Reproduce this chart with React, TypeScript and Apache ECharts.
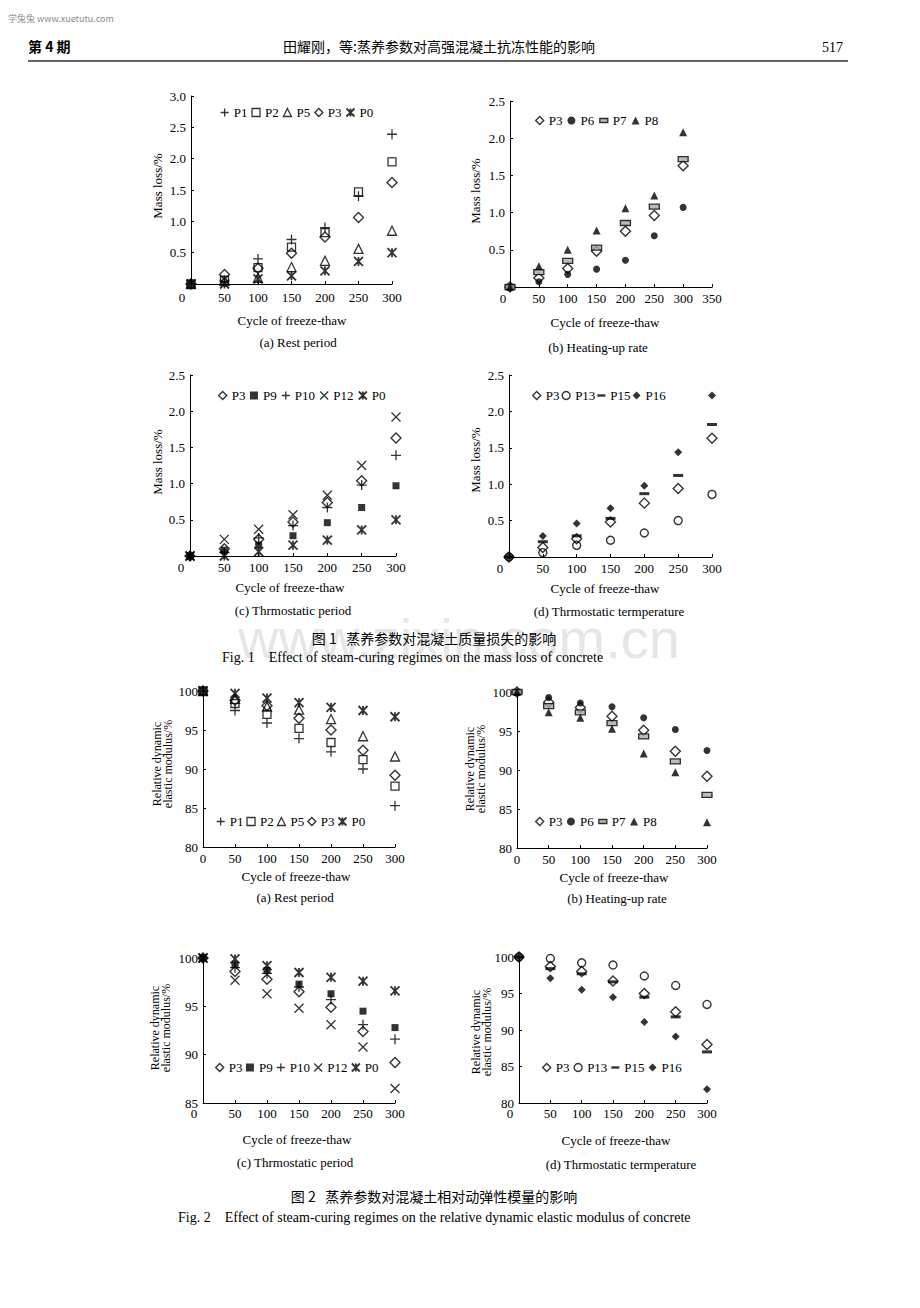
import React, { useEffect, useRef } from "react";
import * as echarts from "echarts";

// ---------- data ----------
const cycles = [0, 50, 100, 150, 200, 250, 300];

// Fig.1 (a) Rest period – mass loss %
const m1a_P1 = [0, 0.04, 0.4, 0.71, 0.9, 1.4, 2.39];
const m1a_P2 = [0, 0.06, 0.26, 0.59, 0.82, 1.47, 1.95];
const m1a_P5 = [0, 0.05, 0.1, 0.27, 0.37, 0.56, 0.85];
const m1a_P3 = [0, 0.15, 0.25, 0.49, 0.75, 1.06, 1.62];
const m1a_P0 = [0, 0.0, 0.08, 0.13, 0.21, 0.36, 0.5];
// Fig.1 (b) Heating-up rate
const m1b_P3 = [0, 0.12, 0.25, 0.48, 0.75, 0.96, 1.63];
const m1b_P6 = [0, 0.07, 0.17, 0.24, 0.36, 0.69, 1.07];
const m1b_P7 = [0, 0.2, 0.35, 0.53, 0.86, 1.08, 1.72];
const m1b_P8 = [0, 0.28, 0.5, 0.76, 1.06, 1.23, 2.08];
// Fig.1 (c) Thermostatic period
const m1c_P3 = [0, 0.1, 0.23, 0.47, 0.74, 1.04, 1.63];
const m1c_P9 = [0, 0.08, 0.15, 0.28, 0.46, 0.67, 0.97];
const m1c_P10 = [0, 0.05, 0.25, 0.42, 0.67, 0.98, 1.39];
const m1c_P12 = [0, 0.23, 0.37, 0.57, 0.84, 1.25, 1.92];
const m1c_P0 = [0, 0.0, 0.06, 0.15, 0.22, 0.36, 0.5];
// Fig.1 (d) Thermostatic temperature
const m1d_P3 = [0, 0.13, 0.25, 0.48, 0.74, 0.94, 1.63];
const m1d_P13 = [0, 0.06, 0.16, 0.23, 0.33, 0.5, 0.86];
const m1d_P15 = [0, 0.21, 0.29, 0.53, 0.87, 1.12, 1.82];
const m1d_P16 = [0, 0.29, 0.46, 0.67, 0.98, 1.44, 2.22];

// Fig.2 (a) Rest period – relative dynamic elastic modulus %
const e2a_P1 = [100, 97.5, 95.9, 93.9, 92.2, 90.0, 85.3];
const e2a_P2 = [100, 98.4, 97.0, 95.2, 93.4, 91.2, 87.8];
const e2a_P5 = [100, 99.0, 98.0, 97.6, 96.4, 94.2, 91.6];
const e2a_P3 = [100, 98.8, 98.1, 96.5, 95.0, 92.4, 89.2];
const e2a_P0 = [100, 99.7, 99.1, 98.5, 97.9, 97.5, 96.7];
// Fig.2 (b) Heating-up rate
const e2b_P3 = [100, 98.7, 98.0, 96.9, 95.1, 92.4, 89.2];
const e2b_P6 = [100, 99.3, 98.6, 98.1, 96.7, 95.2, 92.5];
const e2b_P7 = [100, 98.2, 97.4, 96.0, 94.3, 91.1, 86.8];
const e2b_P8 = [100, 97.4, 96.7, 95.3, 92.1, 89.7, 83.3];
// Fig.2 (c) Thermostatic period
const e2c_P3 = [100, 98.6, 97.8, 96.5, 94.9, 92.4, 89.2];
const e2c_P9 = [100, 99.3, 98.7, 97.3, 96.3, 94.5, 92.8];
const e2c_P10 = [100, 99.0, 98.4, 97.0, 95.7, 93.1, 91.6];
const e2c_P12 = [100, 97.7, 96.3, 94.8, 93.1, 90.8, 86.5];
const e2c_P0 = [100, 99.9, 99.2, 98.5, 98.0, 97.6, 96.6];
// Fig.2 (d) Thermostatic temperature
const e2d_P3 = [100, 98.7, 98.0, 96.7, 95.0, 92.5, 88.0];
const e2d_P13 = [100, 99.8, 99.2, 98.9, 97.4, 96.1, 93.5];
const e2d_P15 = [100, 98.4, 97.7, 96.6, 94.5, 91.8, 87.0];
const e2d_P16 = [100, 97.1, 95.5, 94.5, 91.1, 89.1, 81.9];

// ---------- styles ----------
const SERIF = '"Liberation Serif", "Times New Roman", serif';
const CJK = '"Noto Sans CJK SC", sans-serif';

const hollow = (w = 1.3) => ({ color: "rgba(0,0,0,0)", borderColor: "#000", borderWidth: w });
const filled = () => ({ color: "#000", borderColor: "#000", borderWidth: 0 });

const MARKERS: Record<string, any> = {
  plus: { symbol: "path://M5 0L5 10M0 5L10 5", symbolSize: 10, itemStyle: hollow(1.3) },
  square: { symbol: "rect", symbolSize: 8, itemStyle: hollow(1.3) },
  triangle: { symbol: "triangle", symbolSize: 9, itemStyle: hollow(1.3) },
  diamond: { symbol: "diamond", symbolSize: 10, itemStyle: hollow(1.4) },
  asterisk: { symbol: "path://M0 0L10 10M10 0L0 10M5 0L5 10", symbolSize: 9, itemStyle: hollow(1.8) },
  dot: { symbol: "circle", symbolSize: 7, itemStyle: filled() },
  ftriangle: { symbol: "triangle", symbolSize: 8, itemStyle: filled() },
  bar: { symbol: "path://M0 0M10 10M0 2.5L10 2.5L10 7.5L0 7.5Z", symbolSize: 10, itemStyle: { color: "#aaa", borderColor: "#000", borderWidth: 1.3 } },
  fsquare: { symbol: "rect", symbolSize: 7, itemStyle: filled() },
  cross: { symbol: "path://M0 0L10 10M10 0L0 10", symbolSize: 9, itemStyle: hollow(1.3) },
  circle: { symbol: "circle", symbolSize: 8, itemStyle: hollow(1.4) },
  dash: { symbol: "path://M0 0M10 10M0 3.5L10 3.5L10 6.5L0 6.5Z", symbolSize: 10, itemStyle: filled() },
  fdiamond: { symbol: "diamond", symbolSize: 8, itemStyle: filled() },
};

const mk = (name: string, kind: string, gi: number, values: number[]) => ({
  type: "scatter",
  name,
  xAxisIndex: gi,
  yAxisIndex: gi,
  data: cycles.map((c, i) => [c, values[i]]),
  symbol: MARKERS[kind].symbol,
  symbolSize: MARKERS[kind].symbolSize,
  itemStyle: { ...MARKERS[kind].itemStyle },
  emphasis: { disabled: true },
  silent: true,
  z: 3,
});

// grid layouts (pixel)
const GRIDS = [
  { left: 191, top: 96, width: 201, height: 188 },
  { left: 510, top: 101, width: 202, height: 186 },
  { left: 190, top: 375, width: 206, height: 181 },
  { left: 509, top: 375, width: 203, height: 182 },
  { left: 203, top: 691, width: 192, height: 156 },
  { left: 517, top: 692, width: 190, height: 156 },
  { left: 203, top: 958, width: 192, height: 145 },
  { left: 519, top: 957, width: 188, height: 146 },
];

const X_CFG = [
  { max: 300, shift: 9, margin: 7 },
  { max: 350, shift: 7, margin: 5 },
  { max: 300, shift: 9, margin: 5 },
  { max: 300, shift: 9, margin: 5 },
  { max: 300, shift: 0, margin: 4.5 },
  { max: 300, shift: 0, margin: 4.5 },
  { max: 300, shift: 9, margin: 4 },
  { max: 300, shift: 9, margin: 4 },
];
const Y_CFG = [
  { min: 0, max: 3, interval: 0.5, dec: 1, showMin: false },
  { min: 0, max: 2.5, interval: 0.5, dec: 1, showMin: false },
  { min: 0, max: 2.5, interval: 0.5, dec: 1, showMin: false },
  { min: 0, max: 2.5, interval: 0.5, dec: 1, showMin: false },
  { min: 80, max: 100, interval: 5, dec: 0, showMin: true },
  { min: 80, max: 100, interval: 5, dec: 0, showMin: true },
  { min: 85, max: 100, interval: 5, dec: 0, showMin: true },
  { min: 80, max: 100, interval: 5, dec: 0, showMin: true },
];

const LEGENDS = [
  { data: ["P1", "P2", "P5", "P3", "P0"], left: 220, top: 106, gap: 4 },
  { data: ["P3", "P6", "P7", "P8"], left: 535, top: 114, gap: 5 },
  { data: ["P3", "P9", "P10", "P12", "P0"], left: 218, top: 389, gap: 4.5 },
  { data: ["P3", "P13", "P15", "P16"], left: 532, top: 389, gap: 2 },
  { data: ["P1", "P2", "P5", "P3", "P0"], left: 216, top: 815, gap: 3 },
  { data: ["P3", "P6", "P7", "P8"], left: 535, top: 815, gap: 4.5 },
  { data: ["P3", "P9", "P10", "P12", "P0"], left: 215, top: 1061, gap: 3.5 },
  { data: ["P3", "P13", "P15", "P16"], left: 542, top: 1061, gap: 4 },
];

const txt = (text: string, x: number, y: number, size: number, o: any = {}) => ({
  type: "text",
  x,
  y,
  rotation: o.rot || 0,
  silent: true,
  z: o.z ?? 10,
  style: {
    text,
    fill: o.fill || "#000",
    fontSize: size,
    fontFamily: o.font || SERIF,
    fontWeight: o.weight || "normal",
    align: o.align || "center",
    verticalAlign: "middle",
    lineHeight: o.lh,
  },
});

export default function App() {
  const ref = useRef<HTMLDivElement>(null);

  useEffect(() => {
    if (!ref.current) return;
    const chart = echarts.init(ref.current, null, { renderer: "svg" });

    const series = [
      mk("P1", "plus", 0, m1a_P1),
      mk("P2", "square", 0, m1a_P2),
      mk("P5", "triangle", 0, m1a_P5),
      mk("P3", "diamond", 0, m1a_P3),
      mk("P0", "asterisk", 0, m1a_P0),

      mk("P3", "diamond", 1, m1b_P3),
      mk("P6", "dot", 1, m1b_P6),
      mk("P7", "bar", 1, m1b_P7),
      mk("P8", "ftriangle", 1, m1b_P8),

      mk("P3", "diamond", 2, m1c_P3),
      mk("P9", "fsquare", 2, m1c_P9),
      mk("P10", "plus", 2, m1c_P10),
      mk("P12", "cross", 2, m1c_P12),
      mk("P0", "asterisk", 2, m1c_P0),

      mk("P3", "diamond", 3, m1d_P3),
      mk("P13", "circle", 3, m1d_P13),
      mk("P15", "dash", 3, m1d_P15),
      mk("P16", "fdiamond", 3, m1d_P16),

      mk("P1", "plus", 4, e2a_P1),
      mk("P2", "square", 4, e2a_P2),
      mk("P5", "triangle", 4, e2a_P5),
      mk("P3", "diamond", 4, e2a_P3),
      mk("P0", "asterisk", 4, e2a_P0),

      mk("P3", "diamond", 5, e2b_P3),
      mk("P6", "dot", 5, e2b_P6),
      mk("P7", "bar", 5, e2b_P7),
      mk("P8", "ftriangle", 5, e2b_P8),

      mk("P3", "diamond", 6, e2c_P3),
      mk("P9", "fsquare", 6, e2c_P9),
      mk("P10", "plus", 6, e2c_P10),
      mk("P12", "cross", 6, e2c_P12),
      mk("P0", "asterisk", 6, e2c_P0),

      mk("P3", "diamond", 7, e2d_P3),
      mk("P13", "circle", 7, e2d_P13),
      mk("P15", "dash", 7, e2d_P15),
      mk("P16", "fdiamond", 7, e2d_P16),
    ];

    const axisLine = { show: true, onZero: false, lineStyle: { color: "#000", width: 1 } };
    const axisTick = { show: true, inside: true, length: 3, lineStyle: { color: "#000", width: 1 } };

    const xAxis = X_CFG.map((c, i) => ({
      type: "value",
      gridIndex: i,
      min: 0,
      max: c.max,
      interval: 50,
      axisLine,
      axisTick,
      splitLine: { show: false },
      axisLabel: {
        color: "#000",
        fontFamily: SERIF,
        fontSize: 13,
        margin: c.margin,
        showMinLabel: true,
        showMaxLabel: true,
        formatter: (v: number) => (v === 0 && c.shift ? "{z|0}" : String(v)),
        rich: { z: { padding: [0, c.shift * 2, 0, 0], fontFamily: SERIF, fontSize: 13, color: "#000" } },
      },
    }));

    const yAxis = Y_CFG.map((c, i) => ({
      type: "value",
      gridIndex: i,
      min: c.min,
      max: c.max,
      interval: c.interval,
      axisLine,
      axisTick,
      splitLine: { show: false },
      axisLabel: {
        color: "#000",
        fontFamily: SERIF,
        fontSize: 13,
        margin: 5,
        showMinLabel: c.showMin,
        showMaxLabel: true,
        formatter: (v: number) => v.toFixed(c.dec),
      },
    }));

    const legend = LEGENDS.map((l) => ({
      data: l.data,
      left: l.left,
      top: l.top,
      orient: "horizontal",
      itemWidth: 8,
      itemHeight: 8,
      itemGap: l.gap,
      padding: 0,
      selectedMode: false,
      textStyle: { fontFamily: SERIF, fontSize: 13, color: "#000" },
      itemStyle: { borderWidth: "inherit" },
    }));

    const ml = "Mass loss/%";
    const rd = "Relative dynamic\nelastic modulus/%";
    const cf = "Cycle of freeze-thaw";
    const R = Math.PI / 2;

    const graphic = [
      txt("www.zixin.com.cn", 459, 638, 56, { font: '"Liberation Sans", Arial, sans-serif', fill: "#e6e6e6", z: 0 }),
      txt("学兔兔 www.xuetutu.com", 8, 18, 9, { align: "left", fill: "#8a8a8a", font: CJK }),
      txt("第 4 期", 28, 46, 14, { align: "left", font: CJK, weight: "bold" }),
      txt("田耀刚，等:蒸养参数对高强混凝土抗冻性能的影响", 439, 46, 14, { font: CJK }),
      txt("517", 843, 47, 14, { align: "right" }),
      { type: "line", silent: true, shape: { x1: 28, y1: 61, x2: 848, y2: 61 }, style: { stroke: "#333", lineWidth: 1.5 } },

      // Fig 1 axis titles & captions
      txt(ml, 157, 186, 13, { rot: R }),
      txt(cf, 292, 320, 13),
      txt("(a) Rest period", 298, 342, 13),
      txt(ml, 475, 191, 13, { rot: R }),
      txt(cf, 605, 322, 13),
      txt("(b) Heating-up rate", 598, 347, 13),
      txt(ml, 157, 462, 13, { rot: R }),
      txt(cf, 290, 587, 13),
      txt("(c) Thrmostatic period", 293, 610, 13),
      txt(ml, 475, 460, 13, { rot: R }),
      txt(cf, 605, 588, 13),
      txt("(d) Thrmostatic termperature", 609, 611, 13),

      txt("图 1   蒸养参数对混凝土质量损失的影响", 434, 638, 14, { font: CJK }),
      txt("Fig. 1    Effect of steam-curing regimes on the mass loss of concrete", 222, 657, 14, { align: "left" }),

      // Fig 2 axis titles & captions
      txt(rd, 162, 764, 12, { rot: R, lh: 11 }),
      txt(cf, 296, 876, 13),
      txt("(a) Rest period", 295, 897, 13),
      txt(rd, 475, 769, 12, { rot: R, lh: 11 }),
      txt(cf, 614, 877, 13),
      txt("(b) Heating-up rate", 617, 898, 13),
      txt(rd, 160, 1028, 12, { rot: R, lh: 11 }),
      txt(cf, 297, 1139, 13),
      txt("(c) Thrmostatic period", 295, 1162, 13),
      txt(rd, 481, 1032, 12, { rot: R, lh: 11 }),
      txt(cf, 616, 1140, 13),
      txt("(d) Thrmostatic termperature", 621, 1164, 13),

      txt("图 2   蒸养参数对混凝土相对动弹性模量的影响", 434, 1196, 14, { font: CJK }),
      txt("Fig. 2    Effect of steam-curing regimes on the relative dynamic elastic modulus of concrete", 178, 1217, 14, { align: "left" }),
    ];

    chart.setOption({
      animation: false,
      backgroundColor: "#fff",
      grid: GRIDS.map((g) => ({ ...g, containLabel: false, outerBoundsMode: "none" })),
      xAxis,
      yAxis,
      legend,
      series,
      graphic,
    });

    return () => chart.dispose();
  }, []);

  return (
    <div
      ref={ref}
      style={{ position: "absolute", left: 0, top: 0, width: 920, height: 1308, background: "#fff" }}
    />
  );
}
